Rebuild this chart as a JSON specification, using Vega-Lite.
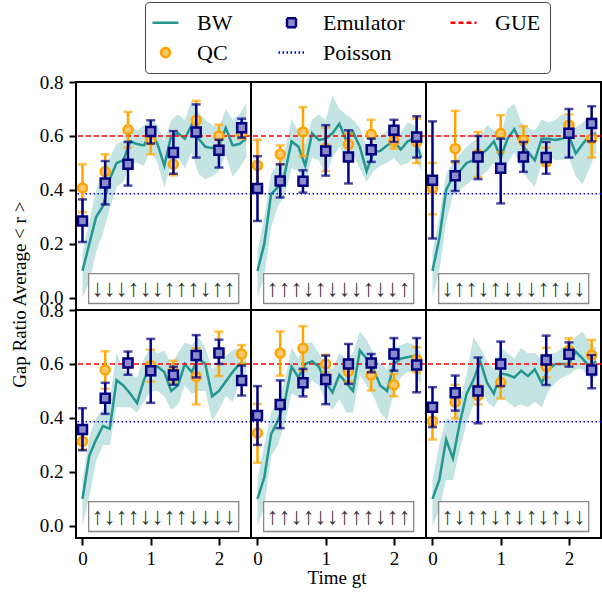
{
"$schema": "https://vega.github.io/schema/vega-lite/v6.json",
"padding": {"left": 11, "top": 1, "right": 1, "bottom": 3},
"title": {"text": "Gap Ratio Average < r >", "orient": "left", "anchor": "middle", "font": "Liberation Serif", "fontSize": 19, "fontWeight": "normal", "color": "black", "offset": 9},
"config": {
  "font": "Liberation Serif",
  "view": {"stroke": "black", "strokeWidth": 2},
  "axis": {"labelFont": "Liberation Serif", "labelFontSize": 19, "labelColor": "black", "titleFont": "Liberation Serif", "titleFontSize": 19, "titleFontWeight": "normal", "titleColor": "black", "tickColor": "black", "tickWidth": 2, "tickSize": 7, "domain": false, "grid": false},
  "facet": {"spacing": 0}
},
"data": {"values": [
{"p":1,"lab":"↓↓↓↑↓↓↑↑↑↓↑↑"},{"p":2,"lab":"↑↑↑↓↑↓↓↓↑↓↓↑"},{"p":3,"lab":"↓↑↑↓↑↓↓↓↑↑↓↓"},
{"p":4,"lab":"↑↓↑↑↓↓↑↑↓↓↓↓"},{"p":5,"lab":"↑↑↓↑↓↓↑↑↑↓↑↑"},{"p":6,"lab":"↑↓↑↑↓↑↓↑↓↑↓↓"},
{"p":1,"t":0,"bw":0.10,"lo":0.00,"hi":0.17},{"p":1,"t":0.1,"bw":0.20,"lo":0.06,"hi":0.28},{"p":1,"t":0.2,"bw":0.30,"lo":0.17,"hi":0.40},{"p":1,"t":0.3,"bw":0.34,"lo":0.24,"hi":0.46},{"p":1,"t":0.4,"bw":0.44,"lo":0.33,"hi":0.52},{"p":1,"t":0.5,"bw":0.50,"lo":0.41,"hi":0.57},{"p":1,"t":0.6,"bw":0.51,"lo":0.43,"hi":0.58},{"p":1,"t":0.7,"bw":0.58,"lo":0.50,"hi":0.64},{"p":1,"t":0.8,"bw":0.57,"lo":0.50,"hi":0.62},{"p":1,"t":0.9,"bw":0.565,"lo":0.49,"hi":0.64},{"p":1,"t":1.0,"bw":0.615,"lo":0.55,"hi":0.66},{"p":1,"t":1.1,"bw":0.57,"lo":0.50,"hi":0.64},{"p":1,"t":1.2,"bw":0.49,"lo":0.41,"hi":0.58},{"p":1,"t":1.3,"bw":0.60,"lo":0.50,"hi":0.66},{"p":1,"t":1.4,"bw":0.61,"lo":0.52,"hi":0.68},{"p":1,"t":1.5,"bw":0.59,"lo":0.48,"hi":0.66},{"p":1,"t":1.6,"bw":0.64,"lo":0.54,"hi":0.73},{"p":1,"t":1.7,"bw":0.59,"lo":0.46,"hi":0.69},{"p":1,"t":1.8,"bw":0.56,"lo":0.44,"hi":0.66},{"p":1,"t":1.9,"bw":0.555,"lo":0.45,"hi":0.64},{"p":1,"t":2.0,"bw":0.565,"lo":0.47,"hi":0.63},{"p":1,"t":2.1,"bw":0.63,"lo":0.53,"hi":0.70},{"p":1,"t":2.2,"bw":0.565,"lo":0.45,"hi":0.66},{"p":1,"t":2.3,"bw":0.57,"lo":0.48,"hi":0.68},{"p":1,"t":2.4,"bw":0.59,"lo":0.52,"hi":0.72},
{"p":2,"t":0,"bw":0.10,"lo":0.00,"hi":0.17},{"p":2,"t":0.1,"bw":0.20,"lo":0.08,"hi":0.30},{"p":2,"t":0.2,"bw":0.385,"lo":0.26,"hi":0.46},{"p":2,"t":0.3,"bw":0.41,"lo":0.34,"hi":0.50},{"p":2,"t":0.4,"bw":0.46,"lo":0.38,"hi":0.55},{"p":2,"t":0.5,"bw":0.58,"lo":0.48,"hi":0.66},{"p":2,"t":0.6,"bw":0.56,"lo":0.47,"hi":0.62},{"p":2,"t":0.7,"bw":0.49,"lo":0.42,"hi":0.57},{"p":2,"t":0.8,"bw":0.61,"lo":0.52,"hi":0.66},{"p":2,"t":0.9,"bw":0.585,"lo":0.51,"hi":0.68},{"p":2,"t":1.0,"bw":0.59,"lo":0.45,"hi":0.66},{"p":2,"t":1.1,"bw":0.61,"lo":0.52,"hi":0.75},{"p":2,"t":1.2,"bw":0.645,"lo":0.56,"hi":0.70},{"p":2,"t":1.3,"bw":0.585,"lo":0.52,"hi":0.68},{"p":2,"t":1.4,"bw":0.615,"lo":0.53,"hi":0.66},{"p":2,"t":1.5,"bw":0.56,"lo":0.48,"hi":0.63},{"p":2,"t":1.6,"bw":0.47,"lo":0.43,"hi":0.56},{"p":2,"t":1.7,"bw":0.54,"lo":0.47,"hi":0.61},{"p":2,"t":1.8,"bw":0.545,"lo":0.49,"hi":0.60},{"p":2,"t":1.9,"bw":0.565,"lo":0.50,"hi":0.62},{"p":2,"t":2.0,"bw":0.58,"lo":0.52,"hi":0.64},{"p":2,"t":2.1,"bw":0.55,"lo":0.49,"hi":0.61},{"p":2,"t":2.2,"bw":0.58,"lo":0.50,"hi":0.65},{"p":2,"t":2.3,"bw":0.59,"lo":0.52,"hi":0.64},{"p":2,"t":2.4,"bw":0.52,"lo":0.47,"hi":0.60},
{"p":3,"t":0,"bw":0.10,"lo":0.00,"hi":0.17},{"p":3,"t":0.1,"bw":0.22,"lo":0.10,"hi":0.30},{"p":3,"t":0.2,"bw":0.40,"lo":0.28,"hi":0.46},{"p":3,"t":0.3,"bw":0.45,"lo":0.38,"hi":0.50},{"p":3,"t":0.4,"bw":0.47,"lo":0.40,"hi":0.53},{"p":3,"t":0.5,"bw":0.50,"lo":0.42,"hi":0.56},{"p":3,"t":0.6,"bw":0.51,"lo":0.44,"hi":0.58},{"p":3,"t":0.7,"bw":0.53,"lo":0.45,"hi":0.60},{"p":3,"t":0.8,"bw":0.55,"lo":0.47,"hi":0.64},{"p":3,"t":0.9,"bw":0.58,"lo":0.50,"hi":0.62},{"p":3,"t":1.0,"bw":0.52,"lo":0.45,"hi":0.60},{"p":3,"t":1.1,"bw":0.59,"lo":0.50,"hi":0.70},{"p":3,"t":1.2,"bw":0.625,"lo":0.54,"hi":0.72},{"p":3,"t":1.3,"bw":0.57,"lo":0.48,"hi":0.65},{"p":3,"t":1.4,"bw":0.54,"lo":0.44,"hi":0.63},{"p":3,"t":1.5,"bw":0.51,"lo":0.41,"hi":0.62},{"p":3,"t":1.6,"bw":0.59,"lo":0.50,"hi":0.66},{"p":3,"t":1.7,"bw":0.59,"lo":0.52,"hi":0.65},{"p":3,"t":1.8,"bw":0.585,"lo":0.51,"hi":0.66},{"p":3,"t":1.9,"bw":0.59,"lo":0.51,"hi":0.68},{"p":3,"t":2.0,"bw":0.60,"lo":0.52,"hi":0.68},{"p":3,"t":2.1,"bw":0.535,"lo":0.45,"hi":0.63},{"p":3,"t":2.2,"bw":0.57,"lo":0.42,"hi":0.65},{"p":3,"t":2.3,"bw":0.60,"lo":0.48,"hi":0.67},{"p":3,"t":2.4,"bw":0.61,"lo":0.54,"hi":0.66},
{"p":4,"t":0,"bw":0.10,"lo":0.00,"hi":0.17},{"p":4,"t":0.1,"bw":0.26,"lo":0.11,"hi":0.33},{"p":4,"t":0.2,"bw":0.32,"lo":0.24,"hi":0.40},{"p":4,"t":0.3,"bw":0.37,"lo":0.30,"hi":0.43},{"p":4,"t":0.4,"bw":0.36,"lo":0.30,"hi":0.47},{"p":4,"t":0.5,"bw":0.54,"lo":0.44,"hi":0.64},{"p":4,"t":0.6,"bw":0.52,"lo":0.44,"hi":0.58},{"p":4,"t":0.7,"bw":0.49,"lo":0.44,"hi":0.56},{"p":4,"t":0.8,"bw":0.455,"lo":0.42,"hi":0.55},{"p":4,"t":0.9,"bw":0.54,"lo":0.46,"hi":0.62},{"p":4,"t":1.0,"bw":0.60,"lo":0.50,"hi":0.66},{"p":4,"t":1.1,"bw":0.59,"lo":0.50,"hi":0.64},{"p":4,"t":1.2,"bw":0.57,"lo":0.48,"hi":0.65},{"p":4,"t":1.3,"bw":0.50,"lo":0.43,"hi":0.60},{"p":4,"t":1.4,"bw":0.52,"lo":0.45,"hi":0.64},{"p":4,"t":1.5,"bw":0.60,"lo":0.52,"hi":0.68},{"p":4,"t":1.6,"bw":0.57,"lo":0.49,"hi":0.67},{"p":4,"t":1.7,"bw":0.62,"lo":0.50,"hi":0.70},{"p":4,"t":1.8,"bw":0.60,"lo":0.50,"hi":0.66},{"p":4,"t":1.9,"bw":0.48,"lo":0.39,"hi":0.58},{"p":4,"t":2.0,"bw":0.50,"lo":0.43,"hi":0.60},{"p":4,"t":2.1,"bw":0.535,"lo":0.48,"hi":0.63},{"p":4,"t":2.2,"bw":0.57,"lo":0.46,"hi":0.65},{"p":4,"t":2.3,"bw":0.60,"lo":0.53,"hi":0.66},{"p":4,"t":2.4,"bw":0.60,"lo":0.54,"hi":0.64},
{"p":5,"t":0,"bw":0.10,"lo":0.00,"hi":0.17},{"p":5,"t":0.1,"bw":0.18,"lo":0.07,"hi":0.30},{"p":5,"t":0.2,"bw":0.34,"lo":0.26,"hi":0.42},{"p":5,"t":0.3,"bw":0.39,"lo":0.30,"hi":0.46},{"p":5,"t":0.4,"bw":0.46,"lo":0.38,"hi":0.54},{"p":5,"t":0.5,"bw":0.59,"lo":0.49,"hi":0.66},{"p":5,"t":0.6,"bw":0.55,"lo":0.48,"hi":0.62},{"p":5,"t":0.7,"bw":0.60,"lo":0.50,"hi":0.68},{"p":5,"t":0.8,"bw":0.61,"lo":0.54,"hi":0.68},{"p":5,"t":0.9,"bw":0.59,"lo":0.52,"hi":0.64},{"p":5,"t":1.0,"bw":0.53,"lo":0.46,"hi":0.60},{"p":5,"t":1.1,"bw":0.495,"lo":0.43,"hi":0.58},{"p":5,"t":1.2,"bw":0.56,"lo":0.47,"hi":0.64},{"p":5,"t":1.3,"bw":0.53,"lo":0.42,"hi":0.62},{"p":5,"t":1.4,"bw":0.50,"lo":0.42,"hi":0.64},{"p":5,"t":1.5,"bw":0.65,"lo":0.56,"hi":0.72},{"p":5,"t":1.6,"bw":0.62,"lo":0.52,"hi":0.69},{"p":5,"t":1.7,"bw":0.58,"lo":0.48,"hi":0.64},{"p":5,"t":1.8,"bw":0.52,"lo":0.42,"hi":0.60},{"p":5,"t":1.9,"bw":0.50,"lo":0.39,"hi":0.58},{"p":5,"t":2.0,"bw":0.60,"lo":0.50,"hi":0.66},{"p":5,"t":2.1,"bw":0.62,"lo":0.55,"hi":0.67},{"p":5,"t":2.2,"bw":0.625,"lo":0.57,"hi":0.68},{"p":5,"t":2.3,"bw":0.63,"lo":0.57,"hi":0.67},{"p":5,"t":2.4,"bw":0.58,"lo":0.52,"hi":0.64},
{"p":6,"t":0,"bw":0.10,"lo":0.00,"hi":0.17},{"p":6,"t":0.1,"bw":0.17,"lo":0.06,"hi":0.30},{"p":6,"t":0.2,"bw":0.32,"lo":0.17,"hi":0.40},{"p":6,"t":0.3,"bw":0.25,"lo":0.17,"hi":0.39},{"p":6,"t":0.4,"bw":0.38,"lo":0.28,"hi":0.46},{"p":6,"t":0.5,"bw":0.49,"lo":0.38,"hi":0.56},{"p":6,"t":0.6,"bw":0.54,"lo":0.45,"hi":0.70},{"p":6,"t":0.7,"bw":0.61,"lo":0.52,"hi":0.66},{"p":6,"t":0.8,"bw":0.53,"lo":0.46,"hi":0.61},{"p":6,"t":0.9,"bw":0.49,"lo":0.44,"hi":0.58},{"p":6,"t":1.0,"bw":0.565,"lo":0.48,"hi":0.66},{"p":6,"t":1.1,"bw":0.56,"lo":0.46,"hi":0.64},{"p":6,"t":1.2,"bw":0.55,"lo":0.44,"hi":0.62},{"p":6,"t":1.3,"bw":0.575,"lo":0.45,"hi":0.66},{"p":6,"t":1.4,"bw":0.555,"lo":0.44,"hi":0.64},{"p":6,"t":1.5,"bw":0.58,"lo":0.46,"hi":0.64},{"p":6,"t":1.6,"bw":0.53,"lo":0.44,"hi":0.62},{"p":6,"t":1.7,"bw":0.58,"lo":0.50,"hi":0.64},{"p":6,"t":1.8,"bw":0.60,"lo":0.53,"hi":0.64},{"p":6,"t":1.9,"bw":0.60,"lo":0.55,"hi":0.66},{"p":6,"t":2.0,"bw":0.60,"lo":0.56,"hi":0.67},{"p":6,"t":2.1,"bw":0.645,"lo":0.58,"hi":0.70},{"p":6,"t":2.2,"bw":0.62,"lo":0.58,"hi":0.72},{"p":6,"t":2.3,"bw":0.59,"lo":0.55,"hi":0.68},{"p":6,"t":2.4,"bw":0.61,"lo":0.55,"hi":0.66},
{"p":1,"t":0,"qc":0.407,"ql":0.318,"qh":0.495},{"p":1,"t":0.333,"qc":0.468,"ql":0.43,"qh":0.532},{"p":1,"t":0.667,"qc":0.623,"ql":0.557,"qh":0.689},{"p":1,"t":1,"qc":0.584,"ql":0.532,"qh":0.627},{"p":1,"t":1.333,"qc":0.495,"ql":0.454,"qh":0.54},{"p":1,"t":1.667,"qc":0.658,"ql":0.61,"qh":0.73},{"p":1,"t":2,"qc":0.60,"ql":0.565,"qh":0.642},{"p":1,"t":2.333,"qc":0.61,"ql":0.59,"qh":0.64},
{"p":2,"t":0,"qc":0.491,"ql":0.40,"qh":0.586},{"p":2,"t":0.333,"qc":0.532,"ql":0.495,"qh":0.565},{"p":2,"t":0.667,"qc":0.615,"ql":0.525,"qh":0.707},{"p":2,"t":1,"qc":0.555,"ql":0.47,"qh":0.63},{"p":2,"t":1.333,"qc":0.569,"ql":0.528,"qh":0.609},{"p":2,"t":1.667,"qc":0.606,"ql":0.561,"qh":0.66},{"p":2,"t":2,"qc":0.581,"ql":0.553,"qh":0.615},{"p":2,"t":2.333,"qc":0.578,"ql":0.50,"qh":0.664},
{"p":3,"t":0,"qc":0.405,"ql":0.31,"qh":0.50},{"p":3,"t":0.333,"qc":0.553,"ql":0.50,"qh":0.693},{"p":3,"t":0.667,"qc":0.532,"ql":0.448,"qh":0.615},{"p":3,"t":1,"qc":0.609,"ql":0.54,"qh":0.677},{"p":3,"t":1.333,"qc":0.584,"ql":0.53,"qh":0.636},{"p":3,"t":1.667,"qc":0.504,"ql":0.49,"qh":0.557},{"p":3,"t":2,"qc":0.64,"ql":0.61,"qh":0.68},{"p":3,"t":2.333,"qc":0.59,"ql":0.52,"qh":0.664},
{"p":4,"t":0,"qc":0.313,"ql":0.283,"qh":0.34},{"p":4,"t":0.333,"qc":0.578,"ql":0.508,"qh":0.647},{"p":4,"t":0.667,"qc":0.604,"ql":0.588,"qh":0.62},{"p":4,"t":1,"qc":0.594,"ql":0.535,"qh":0.653},{"p":4,"t":1.333,"qc":0.572,"ql":0.532,"qh":0.612},{"p":4,"t":1.667,"qc":0.553,"ql":0.45,"qh":0.658},{"p":4,"t":2,"qc":0.641,"ql":0.555,"qh":0.72},{"p":4,"t":2.333,"qc":0.637,"ql":0.60,"qh":0.67},
{"p":5,"t":0,"qc":0.344,"ql":0.234,"qh":0.452},{"p":5,"t":0.333,"qc":0.64,"ql":0.557,"qh":0.72},{"p":5,"t":0.667,"qc":0.658,"ql":0.575,"qh":0.74},{"p":5,"t":1,"qc":0.60,"ql":0.569,"qh":0.634},{"p":5,"t":1.333,"qc":0.572,"ql":0.535,"qh":0.607},{"p":5,"t":1.667,"qc":0.559,"ql":0.502,"qh":0.60},{"p":5,"t":2,"qc":0.522,"ql":0.48,"qh":0.563},{"p":5,"t":2.333,"qc":0.616,"ql":0.569,"qh":0.662},
{"p":6,"t":0,"qc":0.388,"ql":0.32,"qh":0.45},{"p":6,"t":0.333,"qc":0.458,"ql":0.398,"qh":0.523},{"p":6,"t":0.667,"qc":0.482,"ql":0.45,"qh":0.52},{"p":6,"t":1,"qc":0.531,"ql":0.472,"qh":0.60},{"p":6,"t":1.667,"qc":0.59,"ql":0.55,"qh":0.66},{"p":6,"t":2,"qc":0.651,"ql":0.60,"qh":0.695},{"p":6,"t":2.333,"qc":0.633,"ql":0.578,"qh":0.689},
{"p":1,"t":0,"em":0.285,"el":0.207,"eh":0.365},{"p":1,"t":0.333,"em":0.426,"el":0.346,"eh":0.507},{"p":1,"t":0.667,"em":0.495,"el":0.416,"eh":0.578},{"p":1,"t":1,"em":0.617,"el":0.572,"eh":0.658},{"p":1,"t":1.333,"em":0.539,"el":0.46,"eh":0.618},{"p":1,"t":1.667,"em":0.615,"el":0.52,"eh":0.717},{"p":1,"t":2,"em":0.547,"el":0.483,"eh":0.586},{"p":1,"t":2.333,"em":0.63,"el":0.594,"eh":0.664},
{"p":2,"t":0,"em":0.405,"el":0.285,"eh":0.525},{"p":2,"t":0.333,"em":0.433,"el":0.372,"eh":0.495},{"p":2,"t":0.667,"em":0.432,"el":0.39,"eh":0.473},{"p":2,"t":1,"em":0.544,"el":0.453,"eh":0.64},{"p":2,"t":1.333,"em":0.522,"el":0.424,"eh":0.621},{"p":2,"t":1.667,"em":0.549,"el":0.504,"eh":0.59},{"p":2,"t":2,"em":0.621,"el":0.578,"eh":0.66},{"p":2,"t":2.333,"em":0.596,"el":0.52,"eh":0.673},
{"p":3,"t":0,"em":0.436,"el":0.22,"eh":0.654},{"p":3,"t":0.333,"em":0.453,"el":0.396,"eh":0.506},{"p":3,"t":0.667,"em":0.522,"el":0.44,"eh":0.60},{"p":3,"t":1,"em":0.48,"el":0.35,"eh":0.59},{"p":3,"t":1.333,"em":0.522,"el":0.467,"eh":0.578},{"p":3,"t":1.667,"em":0.52,"el":0.46,"eh":0.578},{"p":3,"t":2,"em":0.61,"el":0.52,"eh":0.70},{"p":3,"t":2.333,"em":0.646,"el":0.58,"eh":0.71},
{"p":4,"t":0,"em":0.357,"el":0.28,"eh":0.436},{"p":4,"t":0.333,"em":0.473,"el":0.415,"eh":0.53},{"p":4,"t":0.667,"em":0.604,"el":0.56,"eh":0.646},{"p":4,"t":1,"em":0.575,"el":0.456,"eh":0.693},{"p":4,"t":1.333,"em":0.559,"el":0.523,"eh":0.59},{"p":4,"t":1.667,"em":0.631,"el":0.55,"eh":0.707},{"p":4,"t":2,"em":0.641,"el":0.60,"eh":0.69},{"p":4,"t":2.333,"em":0.539,"el":0.483,"eh":0.594},
{"p":5,"t":0,"em":0.409,"el":0.30,"eh":0.518},{"p":5,"t":0.333,"em":0.45,"el":0.362,"eh":0.539},{"p":5,"t":0.667,"em":0.53,"el":0.48,"eh":0.582},{"p":5,"t":1,"em":0.542,"el":0.451,"eh":0.631},{"p":5,"t":1.333,"em":0.60,"el":0.526,"eh":0.674},{"p":5,"t":1.667,"em":0.604,"el":0.569,"eh":0.637},{"p":5,"t":2,"em":0.637,"el":0.575,"eh":0.696},{"p":5,"t":2.333,"em":0.596,"el":0.495,"eh":0.696},
{"p":6,"t":0,"em":0.44,"el":0.366,"eh":0.514},{"p":6,"t":0.333,"em":0.493,"el":0.427,"eh":0.557},{"p":6,"t":0.667,"em":0.50,"el":0.38,"eh":0.624},{"p":6,"t":1,"em":0.60,"el":0.518,"eh":0.683},{"p":6,"t":1.667,"em":0.615,"el":0.522,"eh":0.705},{"p":6,"t":2,"em":0.636,"el":0.59,"eh":0.68},{"p":6,"t":2.333,"em":0.578,"el":0.51,"eh":0.633}
]},
"facet": {"field": "p", "type": "ordinal", "header": {"title": "Time gt", "titleOrient": "bottom", "titleFont": "Liberation Serif", "titleFontSize": 19, "titleFontWeight": "normal", "titleColor": "black", "titlePadding": 1, "labels": false, "labelExpr": "''", "labelFontSize": 1, "labelPadding": 0}},
"columns": 3,
"spacing": 0,
"bounds": "flush",
"spec": {
  "width": 175,
  "height": 228,
  "encoding": {
    "x": {"type": "quantitative", "title": null, "scale": {"domain": [-0.095, 2.47], "nice": false, "zero": false}, "axis": {"values": [0, 1, 2], "labelPadding": 4}},
    "y": {"type": "quantitative", "title": null, "scale": {"domain": [-0.045, 0.8], "nice": false, "zero": false}, "axis": {"values": [0, 0.2, 0.4, 0.6, 0.8], "format": ".1f", "labelPadding": 6}}
  },
  "layer": [
    {"transform": [{"filter": {"field": "bw", "valid": true}}],
     "mark": {"type": "area", "color": "#c4e3e3", "opacity": 1},
     "encoding": {"x": {"field": "t"}, "y": {"field": "lo"}, "y2": {"field": "hi"}}},
    {"transform": [{"filter": {"field": "bw", "valid": true}}],
     "mark": {"type": "line", "strokeWidth": 2.5},
     "encoding": {"x": {"field": "t"}, "y": {"field": "bw"},
       "color": {"datum": "BW", "type": "nominal", "scale": {"domain": ["BW","Emulator","GUE","QC","Poisson"], "range": ["#23968f","#000080","#ff0000","#ffa500","#0000ff"]},
         "legend": {"title": null, "orient": "none", "legendX": 69, "legendY": -80, "direction": "horizontal", "columns": 3, "gridAlign": "each", "labelFont": "Liberation Serif", "labelFontSize": 22, "labelColor": "black", "labelOffset": 20, "symbolSize": 400, "symbolStrokeWidth": 2.5, "rowPadding": 7, "columnPadding": 40, "strokeColor": "#444", "fillColor": "white", "padding": 9, "cornerRadius": 4, "labelLimit": 300}},
       "strokeDash": {"datum": "BW", "type": "nominal", "scale": {"domain": ["BW","Emulator","GUE","QC","Poisson"], "range": [[1,0],[1,0],[5,3],[1,0],[1.5,2.5]]}}}},
    {"transform": [{"filter": "isValid(datum.lab)"}],
     "mark": {"type": "rule", "strokeWidth": 1.5},
     "encoding": {"x": null, "y": {"datum": 0.6}, "color": {"datum": "GUE", "type": "nominal"}, "strokeDash": {"datum": "GUE", "type": "nominal"}}},
    {"transform": [{"filter": "isValid(datum.lab)"}],
     "mark": {"type": "rule", "strokeWidth": 1.5},
     "encoding": {"x": null, "y": {"datum": 0.3863}, "color": {"datum": "Poisson", "type": "nominal"}, "strokeDash": {"datum": "Poisson", "type": "nominal"}}},
    {"transform": [{"filter": {"field": "qc", "valid": true}}],
     "mark": {"type": "errorbar", "ticks": {"size": 9, "thickness": 2.5, "color": "#ffa500"}, "rule": {"strokeWidth": 2.5, "color": "#ffa500"}},
     "encoding": {"x": {"field": "t"}, "y": {"field": "ql", "type": "quantitative", "title": null}, "y2": {"field": "qh"}}},
    {"transform": [{"filter": {"field": "qc", "valid": true}}],
     "mark": {"type": "point", "filled": false, "size": 400, "strokeWidth": 2.5, "opacity": 1},
     "encoding": {"x": {"field": "t"}, "y": {"field": "qc"},
       "color": {"datum": "QC", "type": "nominal"},
       "shape": {"datum": "QC", "type": "nominal", "scale": {"domain": ["BW","Emulator","GUE","QC","Poisson"], "range": ["M-1.3,0H1.3","M-1.3,0M-0.45,-0.45H0.45V0.45H-0.45ZM1.3,0","M-1.3,0H1.3","M-1.3,0M0.45,0A0.45,0.45,0,1,1,-0.45,0A0.45,0.45,0,1,1,0.45,0ZM1.3,0","M-1.3,0H1.3"]}},
       "fill": {"datum": "QC", "type": "nominal", "scale": {"domain": ["BW","Emulator","GUE","QC","Poisson"], "range": ["transparent","#8c8cc8","transparent","#ffc870","transparent"]}}}},
    {"transform": [{"filter": {"field": "em", "valid": true}}],
     "mark": {"type": "errorbar", "ticks": {"size": 9, "thickness": 2.5, "color": "#000080"}, "rule": {"strokeWidth": 2.5, "color": "#000080"}},
     "encoding": {"x": {"field": "t"}, "y": {"field": "el", "type": "quantitative", "title": null}, "y2": {"field": "eh"}}},
    {"transform": [{"filter": {"field": "em", "valid": true}}],
     "mark": {"type": "point", "filled": false, "size": 400, "strokeWidth": 2.5, "opacity": 1},
     "encoding": {"x": {"field": "t"}, "y": {"field": "em"},
       "color": {"datum": "Emulator", "type": "nominal"},
       "shape": {"datum": "Emulator", "type": "nominal"},
       "fill": {"datum": "Emulator", "type": "nominal"}}},
    {"transform": [{"filter": "isValid(datum.lab)"}],
     "mark": {"type": "rect", "fill": "white", "stroke": "#888888", "strokeWidth": 1.3},
     "encoding": {"x": {"datum": 0.09}, "x2": {"datum": 2.29}, "y": {"datum": -0.021}, "y2": {"datum": 0.09}}},
    {"transform": [{"filter": "isValid(datum.lab)"}],
     "mark": {"type": "text", "font": "Liberation Serif", "fontSize": 24, "baseline": "middle", "align": "center", "color": "#333333"},
     "encoding": {"x": {"datum": 1.19}, "y": {"datum": 0.032}, "text": {"field": "lab"}}}
  ]
}
}
